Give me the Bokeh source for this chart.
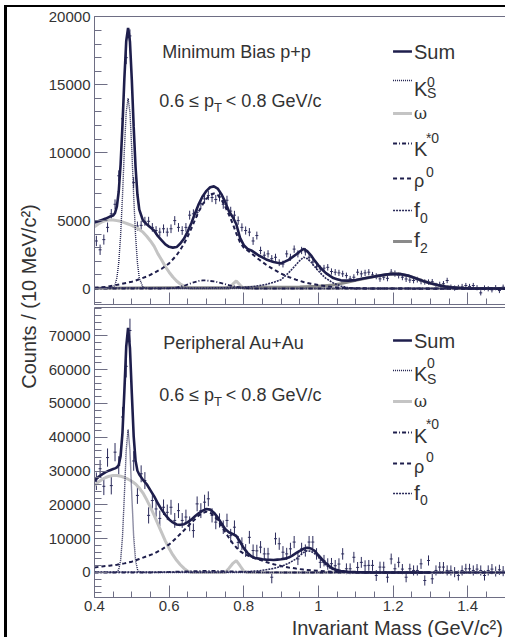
import numpy as np
from math import pi
from bokeh.plotting import figure
from bokeh.models import (ColumnDataSource, Label, Arrow, Range1d, FixedTicker,
                          NumeralTickFormatter, LinearAxis)
from bokeh.layouts import row, column
from bokeh.embed import file_html
from bokeh.resources import INLINE

# ------------------------------------------------------------------ data
# 10 MeV bins
bin_mass = [round(0.405 + 0.01 * i, 3) for i in range(110)]

pp_counts = [3500, 2850, 3600, 4500, 5500, 6200, 8300, 12500, 17000, 18600,
             7800, 4600, 4650, 4950, 4950, 4500, 4270, 4150, 4400, 4150,
             4400, 5000, 4500, 4270, 4500, 5400, 5500, 5600, 6250, 6600,
             6850, 6700, 6550, 6750, 6200, 6500, 5700, 5400, 5000, 4500,
             4270, 4150, 3500, 3900, 2800, 2450, 2550, 2200, 2300, 1900,
             1800, 2550, 2300, 2900, 2550, 2800, 2700, 2300, 1950, 1600,
             1450, 1500, 1560, 1250, 1200, 1150, 1080, 950, 710, 830,
             1200, 1080, 1150, 1200, 1000, 900, 710, 830, 750, 1200,
             1100, 960, 830, 700, 620, 590, 650, 520, 480, 470,
             500, 220, 300, 350, 590, 100, 30, 80, 150, 220,
             150, 220, 60, -320, 40, -20, -100, 60, -150, 100]
pp_err = [380, 380, 370, 360, 350, 360, 400, 450, 480, 480,
          420, 330, 330, 330, 330, 320, 320, 320, 320, 320,
          320, 330, 320, 320, 320, 330, 330, 330, 340, 340,
          340, 340, 340, 340, 330, 330, 320, 320, 310, 300,
          300, 300, 290, 290, 280, 270, 270, 260, 260, 250,
          250, 260, 260, 270, 260, 270, 270, 260, 250, 240,
          240, 240, 240, 230, 230, 230, 230, 220, 220, 220,
          230, 230, 230, 230, 220, 220, 220, 220, 220, 230,
          230, 220, 220, 220, 210, 210, 210, 210, 200, 200,
          200, 200, 200, 200, 200, 190, 190, 190, 190, 190,
          190, 190, 190, 190, 190, 190, 190, 190, 190, 190]

auau_counts = [27000, 30700, 25500, 34000, 25700, 35600, 31700, 46000, 61000, 71600,
               33000, 22800, 29200, 27200, 16900, 21300, 18800, 16000, 19300, 17800,
               19300, 15400, 18300, 15400, 16400, 14400, 12400, 20300, 18300, 20800,
               21800, 16900, 14900, 15400, 13400, 15400, 10900, 13400, 8900, 8500,
               6500, 10400, 6500, 6400, 7500, 5500, 5500, -1400, 10000, 8500,
               6000, 5500, 7000, 9000, 4000, 7000, 6500, 9000, 9000, 5500,
               3000, 3500, 2500, 2600, 2000, 2500, 5500, 1100, 1100, 4500,
               1500, 3000, 2000, 2100, 2100, -900, 1600, 1580, -1400, 4000,
               1100, 3000, 1000, -1400, 1100, 600, 600, 2560, -2370, 3550,
               -1870, 600, 1600, 1600, 600, 590, 100, -880, 590, 1080,
               1080, 590, 1000, 590, -880, 600, 1000, 300, 800, 400]
auau_err = [2600, 2600, 2600, 2700, 2600, 2700, 2700, 3000, 3300, 3500,
            2900, 2500, 2500, 2500, 2400, 2400, 2300, 2300, 2300, 2300,
            2200, 2200, 2200, 2200, 2200, 2200, 2100, 2200, 2200, 2200,
            2200, 2100, 2100, 2100, 2000, 2000, 2000, 2000, 1900, 1900,
            1900, 1900, 1800, 1800, 1800, 1800, 1800, 1800, 1800, 1800,
            1800, 1800, 1800, 1800, 1800, 1800, 1800, 1800, 1800, 1700,
            1700, 1700, 1700, 1700, 1700, 1700, 1700, 1600, 1600, 1600,
            1600, 1600, 1600, 1600, 1600, 1600, 1600, 1600, 1600, 1600,
            1500, 1500, 1500, 1500, 1500, 1500, 1500, 1500, 1500, 1500,
            1500, 1500, 1500, 1500, 1500, 1500, 1500, 1500, 1500, 1500,
            1500, 1500, 1500, 1500, 1500, 1500, 1500, 1500, 1500, 1500]

# fitted curves (mass, counts) -- p+p
pp_sum = [(0.40, 4850), (0.41, 4950), (0.42, 5050), (0.43, 5150), (0.44, 5280), (0.45, 5370),
          (0.455, 5560), (0.46, 6050), (0.465, 7160), (0.47, 9170), (0.475, 12050), (0.48, 15430),
          (0.485, 18210), (0.49, 19190), (0.495, 18170), (0.50, 15350), (0.505, 11900), (0.51, 8950),
          (0.515, 6920), (0.52, 5810), (0.53, 5000), (0.54, 4730), (0.55, 4500), (0.56, 4250),
          (0.57, 3850), (0.58, 3550), (0.59, 3250), (0.60, 3070), (0.61, 3010), (0.62, 3050),
          (0.63, 3310), (0.64, 3680), (0.65, 4210), (0.66, 4850), (0.67, 5580), (0.68, 6260),
          (0.69, 6800), (0.70, 7190), (0.71, 7460), (0.72, 7520), (0.73, 7360), (0.74, 6950),
          (0.75, 6380), (0.76, 5700), (0.77, 5285), (0.78, 4730), (0.79, 3730), (0.80, 3200),
          (0.81, 2920), (0.82, 2810), (0.83, 2625), (0.84, 2430), (0.85, 2285), (0.86, 2140),
          (0.87, 2040), (0.88, 1945), (0.89, 1895), (0.90, 1850), (0.91, 1975), (0.92, 2105),
          (0.93, 2305), (0.94, 2510), (0.95, 2725), (0.96, 2910), (0.97, 2750), (0.98, 2440),
          (0.99, 2050), (1.00, 1710), (1.01, 1395), (1.02, 1130), (1.03, 950), (1.04, 770),
          (1.05, 685), (1.06, 600), (1.08, 580), (1.10, 620), (1.12, 730), (1.14, 830),
          (1.16, 930), (1.18, 1020), (1.20, 1080), (1.22, 1060), (1.24, 950), (1.26, 760),
          (1.28, 560), (1.30, 390), (1.32, 250), (1.34, 150), (1.36, 80), (1.38, 35),
          (1.40, 10), (1.45, 0), (1.50, 0)]
pp_k0s = [(0.40, 0), (0.45, 80), (0.455, 280), (0.46, 780), (0.465, 1900), (0.47, 3900),
          (0.475, 6800), (0.48, 10200), (0.485, 13000), (0.49, 14000), (0.495, 13000),
          (0.50, 10200), (0.505, 6800), (0.51, 3900), (0.515, 1900), (0.52, 780), (0.53, 80),
          (0.54, 0), (1.50, 0)]
pp_omega = [(0.40, 4550), (0.41, 4750), (0.42, 4900), (0.43, 5000), (0.44, 5050), (0.45, 5050),
            (0.46, 5000), (0.47, 4950), (0.48, 4850), (0.49, 4750), (0.50, 4650), (0.51, 4500),
            (0.52, 4350), (0.53, 4150), (0.54, 3850), (0.55, 3500), (0.56, 3100), (0.57, 2550),
            (0.58, 2100), (0.59, 1600), (0.60, 1200), (0.61, 850), (0.62, 550), (0.63, 330),
            (0.64, 180), (0.65, 60), (0.66, 0), (0.76, 0), (0.77, 300), (0.78, 560), (0.79, 250),
            (0.80, 0), (1.50, 0)]
pp_kstar = [(0.40, 0), (0.58, 0), (0.60, 20), (0.62, 60), (0.64, 200), (0.66, 400), (0.68, 560),
            (0.69, 600), (0.70, 590), (0.72, 520), (0.74, 400), (0.76, 250), (0.78, 120),
            (0.80, 40), (0.82, 0), (1.50, 0)]
pp_rho = [(0.40, 50), (0.43, 120), (0.45, 220), (0.47, 320), (0.50, 500), (0.52, 680), (0.54, 880),
          (0.56, 1150), (0.58, 1450), (0.60, 1850), (0.62, 2450), (0.63, 2850), (0.64, 3300),
          (0.65, 3850), (0.66, 4450), (0.67, 5100), (0.68, 5700), (0.69, 6200), (0.70, 6600),
          (0.71, 6900), (0.72, 7000), (0.73, 6900), (0.74, 6550), (0.75, 6050), (0.76, 5450),
          (0.77, 4800), (0.78, 4050), (0.79, 3400), (0.80, 3000), (0.82, 2600), (0.84, 2150),
          (0.86, 1750), (0.88, 1400), (0.90, 1100), (0.92, 850), (0.94, 650), (0.96, 480),
          (0.98, 350), (1.00, 250), (1.02, 170), (1.04, 110), (1.06, 60), (1.10, 20), (1.14, 0),
          (1.50, -30)]
pp_f0 = [(0.40, 30), (0.70, 40), (0.80, 80), (0.82, 130), (0.84, 200), (0.86, 300), (0.88, 450),
         (0.90, 650), (0.92, 1150), (0.93, 1450), (0.94, 1750), (0.95, 2050), (0.96, 2300),
         (0.97, 2200), (0.98, 1950), (0.99, 1600), (1.00, 1300), (1.01, 1000), (1.02, 750),
         (1.04, 400), (1.06, 180), (1.08, 60), (1.10, 0), (1.50, 0)]
pp_f2 = [(0.40, 20), (0.60, 50), (0.80, 80), (0.95, 110), (1.00, 160), (1.04, 260), (1.06, 360),
         (1.08, 480), (1.10, 600), (1.12, 720), (1.14, 830), (1.16, 930), (1.18, 1020),
         (1.20, 1080), (1.22, 1060), (1.24, 950), (1.26, 760), (1.28, 560), (1.30, 390),
         (1.32, 250), (1.34, 150), (1.36, 80), (1.38, 35), (1.40, 10), (1.45, 0), (1.50, 0)]

# fitted curves -- peripheral Au+Au
auau_sum = [(0.40, 27200), (0.41, 28200), (0.42, 29000), (0.43, 29700), (0.44, 30200), (0.45, 30600),
            (0.455, 30800), (0.46, 31100), (0.465, 31800), (0.47, 34500), (0.475, 41400),
            (0.48, 53600), (0.485, 66800), (0.49, 72400), (0.495, 66400), (0.50, 53000),
            (0.505, 40300), (0.51, 33100), (0.515, 30100), (0.52, 29000), (0.53, 27400),
            (0.54, 26100), (0.55, 24300), (0.56, 22500), (0.57, 20400), (0.58, 18600), (0.59, 17000),
            (0.60, 15700), (0.61, 14800), (0.62, 14200), (0.63, 14100), (0.64, 14300), (0.65, 14900),
            (0.66, 15700), (0.67, 16700), (0.68, 17600), (0.69, 18300), (0.70, 18800), (0.71, 18600),
            (0.72, 17700), (0.73, 16300), (0.74, 14600), (0.75, 12900), (0.76, 11900), (0.77, 11400),
            (0.78, 10800), (0.79, 9100), (0.80, 7200), (0.81, 5800), (0.82, 4800), (0.83, 4300),
            (0.84, 4100), (0.85, 3900), (0.86, 3800), (0.87, 3750), (0.88, 3700), (0.89, 3800),
            (0.90, 3900), (0.91, 4100), (0.92, 4400), (0.93, 5000), (0.94, 5700), (0.95, 6400),
            (0.96, 7000), (0.97, 7300), (0.98, 7100), (0.99, 6400), (1.00, 5100), (1.01, 3900),
            (1.02, 2700), (1.03, 1800), (1.04, 1100), (1.05, 700), (1.06, 450), (1.08, 200),
            (1.10, 100), (1.14, 30), (1.20, 0), (1.30, 0)]
auau_k0s = [(0.40, 0), (0.45, 0), (0.455, 20), (0.46, 160), (0.465, 900), (0.47, 3600),
            (0.475, 10500), (0.48, 22800), (0.485, 36200), (0.49, 42300), (0.495, 36200),
            (0.50, 22800), (0.505, 10500), (0.51, 3600), (0.515, 900), (0.52, 160), (0.53, 0),
            (1.50, 0)]
auau_omega = [(0.40, 25700), (0.41, 26700), (0.42, 27500), (0.43, 28100), (0.44, 28500),
              (0.45, 28700), (0.46, 28700), (0.47, 28500), (0.48, 28100), (0.49, 27600),
              (0.50, 27000), (0.51, 26200), (0.52, 25000), (0.53, 23500), (0.54, 21500),
              (0.55, 19300), (0.56, 16900), (0.57, 14300), (0.58, 11800), (0.59, 9300),
              (0.60, 7100), (0.61, 5200), (0.62, 3600), (0.63, 2300), (0.64, 1200), (0.65, 400),
              (0.66, 0), (0.75, 0), (0.76, 1200), (0.77, 2600), (0.78, 3500), (0.79, 2000),
              (0.80, 400), (0.81, 0), (1.50, 0)]
auau_kstar = [(0.40, 0), (0.55, 0), (0.60, 150), (0.65, 350), (0.70, 500), (0.75, 400),
              (0.80, 200), (0.85, 60), (0.90, 0), (1.50, 0)]
auau_rho = [(0.40, 1500), (0.42, 1800), (0.44, 2000), (0.46, 2300), (0.48, 2700), (0.50, 3200),
            (0.52, 4000), (0.54, 4800), (0.56, 5600), (0.58, 6800), (0.60, 8300), (0.62, 10300),
            (0.64, 12500), (0.66, 14800), (0.68, 16900), (0.69, 17600), (0.70, 18000),
            (0.71, 17700), (0.72, 16800), (0.73, 15500), (0.74, 13800), (0.75, 12000),
            (0.76, 10300), (0.77, 8700), (0.78, 7400), (0.79, 6300), (0.80, 5600), (0.82, 4500),
            (0.84, 3900), (0.86, 3100), (0.88, 2450), (0.90, 1900), (0.92, 1500), (0.94, 1150),
            (0.96, 850), (0.98, 650), (1.00, 500), (1.02, 350), (1.04, 230), (1.06, 150),
            (1.10, 60), (1.14, 0), (1.50, 0)]
auau_f0 = [(0.40, 100), (0.78, 100), (0.80, 200), (0.84, 500), (0.86, 800), (0.88, 1200),
           (0.90, 1800), (0.92, 2700), (0.94, 4000), (0.95, 5000), (0.96, 5900), (0.97, 6400),
           (0.98, 6300), (0.99, 5600), (1.00, 4500), (1.01, 3300), (1.02, 2200), (1.03, 1400),
           (1.04, 800), (1.05, 450), (1.06, 250), (1.08, 80), (1.10, 0), (1.50, 0)]

x_ticks = [0.4, 0.6, 0.8, 1.0, 1.2, 1.4]
pp_y_ticks = [0, 5000, 10000, 15000, 20000]
auau_y_ticks = [0, 10000, 20000, 30000, 40000, 50000, 60000, 70000]

# ------------------------------------------------------------------ style
FONT = "Liberation Sans"
AXC = "#6e6e84"
TXT = "#333333"
NAVY = "#1e1e4c"
PT = "#2c2c5c"

STY = {
    "sum":   dict(line_color=NAVY, line_width=2.6),
    "k0s":   dict(line_color=NAVY, line_width=1.4, line_dash="1 1"),
    "omega": dict(line_color="#c4c4c4", line_width=3.0),
    "kstar": dict(line_color=NAVY, line_width=1.8, line_dash="4 2 1 2"),
    "rho":   dict(line_color=NAVY, line_width=2.0, line_dash="4 3"),
    "f0":    dict(line_color="#2a2a5a", line_width=1.6, line_dash="2 1"),
    "f2":    dict(line_color="#8a8a8a", line_width=3.0),
}

X0, X1 = 0.4, 1.5013
PP_Y = (-1178, 20030)
AU_Y = (-7400, 78400)
FL, FR = 92, 505            # frame left/right in window pixels
PP_FT, PP_FB = 16, 304      # top panel frame top/bottom
AU_FT, AU_FB = 307, 597     # bottom panel frame top/bottom


def xd(xp):
    return X0 + (xp - FL) * (X1 - X0) / (FR - FL)


def yd_pp(yp):
    return PP_Y[1] - (yp - PP_FT) * (PP_Y[1] - PP_Y[0]) / (PP_FB - PP_FT)


def yd_au(yp):
    return AU_Y[1] - (yp - AU_FT) * (AU_Y[1] - AU_Y[0]) / (AU_FB - AU_FT)


def style_axis(ax):
    ax.axis_line_color = AXC
    ax.major_tick_line_color = AXC
    ax.minor_tick_line_color = AXC
    ax.major_tick_out = 0
    ax.minor_tick_out = 0
    ax.major_label_text_font = FONT
    ax.major_label_text_font_size = "15px"
    ax.major_label_text_color = TXT


def make_panel(height, yr, border_top, border_bottom, yticks, yminor, show_xlabels):
    p = figure(width=460, height=height, x_range=Range1d(X0, X1), y_range=Range1d(*yr),
               min_border_left=47, min_border_right=0, min_border_top=border_top,
               min_border_bottom=border_bottom, toolbar_location=None, output_backend="svg")
    p.xgrid.visible = False
    p.ygrid.visible = False
    p.outline_line_color = None
    p.background_fill_color = "white"
    p.border_fill_color = "white"
    xminor = [round(0.4 + 0.05 * i, 3) for i in range(23)]
    p.xaxis.ticker = FixedTicker(ticks=x_ticks, minor_ticks=xminor)
    p.yaxis.ticker = FixedTicker(ticks=yticks, minor_ticks=yminor)
    p.xaxis.formatter = NumeralTickFormatter(format="0.[0]")
    p.yaxis.formatter = NumeralTickFormatter(format="0")
    for ax in list(p.xaxis) + list(p.yaxis):
        style_axis(ax)
    p.yaxis.major_tick_in = 13
    p.yaxis.minor_tick_in = 7
    p.yaxis.major_label_standoff = 4
    p.xaxis.major_tick_in = 12
    p.xaxis.minor_tick_in = 6
    if show_xlabels:
        p.xaxis.major_label_standoff = 3
    else:
        p.xaxis.major_label_text_font_size = "1px"
        p.xaxis.major_label_text_alpha = 0
        p.xaxis.major_label_standoff = 0
    # plain top edge of the frame (no ticks, no labels)
    top_edge = LinearAxis(ticker=FixedTicker(ticks=[]), axis_line_color=AXC,
                          major_tick_in=0, major_tick_out=0, minor_tick_in=0, minor_tick_out=0,
                          major_label_text_font_size="1px", major_label_text_alpha=0,
                          major_label_standoff=0)
    p.add_layout(top_edge, "above")
    return p


def draw_points(p, counts, errs):
    m = np.array(bin_mass)
    v = np.array(counts, dtype=float)
    e = np.array(errs, dtype=float)
    src = ColumnDataSource(dict(x=m, y=v, lo=v - e, hi=v + e, l=m - 0.004, r=m + 0.004))
    p.segment(x0="x", y0="lo", x1="x", y1="hi", source=src, line_color=PT, line_width=1)
    p.segment(x0="l", y0="y", x1="r", y1="y", source=src, line_color=PT, line_width=1)


def draw_curve(p, pairs, key):
    xs = [a for a, b in pairs]
    ys = [b for a, b in pairs]
    p.line(xs, ys, **STY[key])


def lab(p, yfun, xp, yp, text, size, color=TXT, font=FONT):
    # yp is the visual middle of the text in window pixels
    p.add_layout(Label(x=xd(xp), y=yfun(yp), text=text, text_font=font,
                       text_font_size=f"{size}px", text_color=color,
                       text_align="left", text_baseline="middle"))


def sample(p, yfun, yp, key):
    st = dict(STY[key])
    p.add_layout(Arrow(end=None, x_start=xd(392), x_end=xd(411), y_start=yfun(yp), y_end=yfun(yp),
                       **st))


def strip(width, height):
    s = figure(width=width, height=height, title=None,
               x_range=Range1d(0, width), y_range=Range1d(0, height),
               x_axis_location=None, y_axis_location=None,
               min_border=0, min_border_left=0, min_border_right=0,
               min_border_top=0, min_border_bottom=0,
               toolbar_location=None, output_backend="svg")
    s.grid.visible = False
    s.outline_line_color = None
    return s


# ------------------------------------------------------------------ top panel
pp_minor = list(range(-1000, 20001, 1000))
top = make_panel(298, PP_Y, 9, 1, pp_y_ticks, pp_minor, False)
draw_points(top, pp_counts, pp_err)
for pairs, key in [(pp_omega, "omega"), (pp_f2, "f2"), (pp_k0s, "k0s"), (pp_kstar, "kstar"),
                   (pp_rho, "rho"), (pp_f0, "f0"), (pp_sum, "sum")]:
    draw_curve(top, pairs, key)

lab(top, yd_pp, 160, 51, "Minimum Bias p+p", 18)
lab(top, yd_pp, 157, 100, "0.6 \u2264 p", 18)
lab(top, yd_pp, 212, 107, "T", 13)
lab(top, yd_pp, 224, 100, "< 0.8 GeV/c", 18)

sample(top, yd_pp, 51, "sum")
lab(top, yd_pp, 413, 51, "Sum", 20)
sample(top, yd_pp, 80, "k0s")
lab(top, yd_pp, 413, 88, "K", 20)
lab(top, yd_pp, 426, 81, "0", 14)
lab(top, yd_pp, 426, 92, "S", 14)
sample(top, yd_pp, 113, "omega")
lab(top, yd_pp, 413, 113, "\u03c9", 16, font="DejaVu Serif")
sample(top, yd_pp, 143, "kstar")
lab(top, yd_pp, 413, 148, "K", 20)
lab(top, yd_pp, 425, 137, "*0", 14)
sample(top, yd_pp, 178, "rho")
lab(top, yd_pp, 413, 180, "\u03c1", 18)
lab(top, yd_pp, 425, 171, "0", 14)
sample(top, yd_pp, 210, "f0")
lab(top, yd_pp, 413, 209, "f", 21)
lab(top, yd_pp, 419, 217, "0", 14)
sample(top, yd_pp, 241, "f2")
lab(top, yd_pp, 413, 239, "f", 21)
lab(top, yd_pp, 419, 247, "2", 14)

# ------------------------------------------------------------------ bottom panel
au_minor = list(range(-6000, 78001, 2000))
bot = make_panel(312, AU_Y, 2, 20, auau_y_ticks, au_minor, True)
draw_points(bot, auau_counts, auau_err)
for pairs, key in [(auau_omega, "omega"), (auau_k0s, "k0s"), (auau_kstar, "kstar"),
                   (auau_rho, "rho"), (auau_f0, "f0"), (auau_sum, "sum")]:
    draw_curve(bot, pairs, key)

lab(bot, yd_au, 161, 342, "Peripheral Au+Au", 18)
lab(bot, yd_au, 157, 394, "0.6 \u2264 p", 18)
lab(bot, yd_au, 212, 401, "T", 13)
lab(bot, yd_au, 224, 394, "< 0.8 GeV/c", 18)

sample(bot, yd_au, 340, "sum")
lab(bot, yd_au, 413, 340, "Sum", 20)
sample(bot, yd_au, 370, "k0s")
lab(bot, yd_au, 413, 373, "K", 20)
lab(bot, yd_au, 426, 362, "0", 14)
lab(bot, yd_au, 426, 378, "S", 14)
sample(bot, yd_au, 401, "omega")
lab(bot, yd_au, 413, 401, "\u03c9", 16, font="DejaVu Serif")
sample(bot, yd_au, 432, "kstar")
lab(bot, yd_au, 413, 435, "K", 20)
lab(bot, yd_au, 425, 423, "*0", 14)
sample(bot, yd_au, 463, "rho")
lab(bot, yd_au, 413, 466, "\u03c1", 18)
lab(bot, yd_au, 425, 456, "0", 14)
sample(bot, yd_au, 493, "f0")
lab(bot, yd_au, 413, 492, "f", 21)
lab(bot, yd_au, 419, 499, "0", 14)

# ------------------------------------------------------------------ x title strip (window y 617..637)
xt = strip(460, 20)
xt.add_layout(Label(x=457, y=10, text="Invariant Mass (GeV/c\u00b2)", text_font=FONT,
                    text_font_size="20px", text_color=TXT, text_align="right",
                    text_baseline="middle"))

# ------------------------------------------------------------------ y title strip (window y 7..637)
left = strip(38, 630)
left.add_layout(Label(x=21, y=341, text="Counts / (10 MeV/c\u00b2)", angle=pi / 2,
                      text_font=FONT, text_font_size="20px", text_color=TXT,
                      text_align="center", text_baseline="middle"))

layout = row(left, column(top, bot, xt),
             styles={"border-top": "2px solid #000", "border-left": "3px solid #000",
                     "margin-top": "5px", "margin-left": "4px"})

open("out.html", "w").write(file_html(layout, INLINE))
